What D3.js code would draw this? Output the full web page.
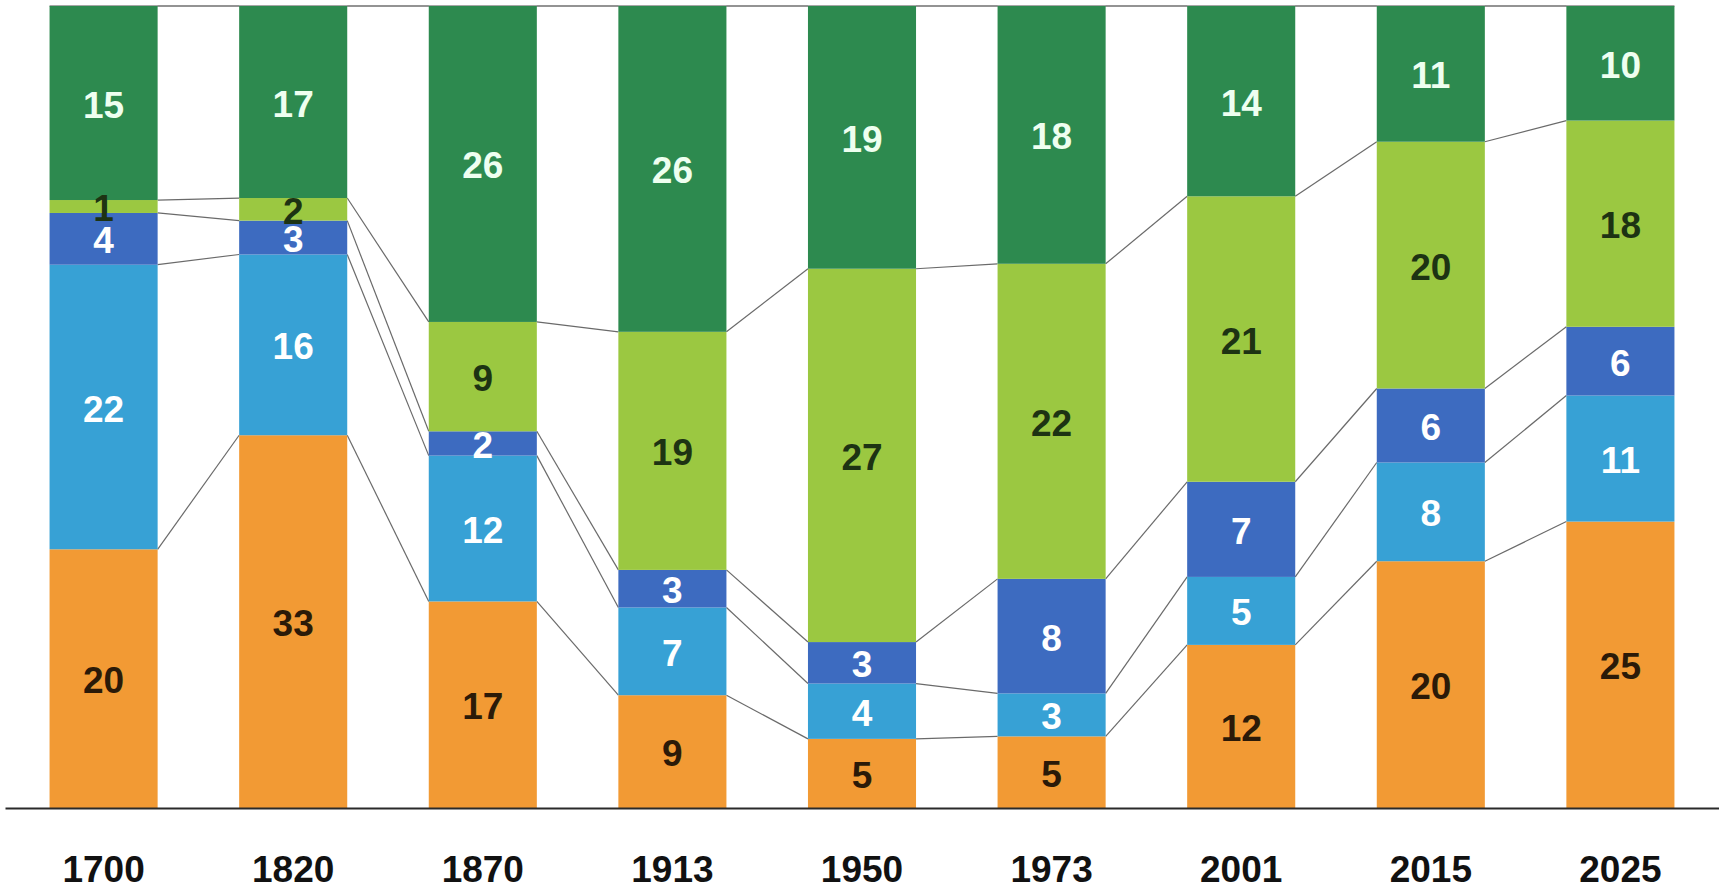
<!DOCTYPE html>
<html>
<head>
<meta charset="utf-8">
<script src="https://cdn.jsdelivr.net/npm/d3@7"></script>
<style>
html,body{margin:0;padding:0;background:#fff;}
svg{display:block;}
</style>
</head>
<body>
<svg id="chart" width="1719" height="893"></svg>
<script>
const years = ["1700","1820","1870","1913","1950","1973","2001","2015","2025"];
const seriesKeys = ["orange","lightBlue","darkBlue","lightGreen","darkGreen"];
const orange     = [20, 33, 17,  9,  5,  5, 12, 20, 25];
const lightBlue  = [22, 16, 12,  7,  4,  3,  5,  8, 11];
const darkBlue   = [ 4,  3,  2,  3,  3,  8,  7,  6,  6];
const lightGreen = [ 1,  2,  9, 19, 27, 22, 21, 20, 18];
const darkGreen  = [15, 17, 26, 26, 19, 18, 14, 11, 10];
const seriesColors = {orange:"#f29a34", lightBlue:"#37a1d5", darkBlue:"#3d6bc0", lightGreen:"#9bc841", darkGreen:"#2d8a4f"};
const labelColors  = {orange:"#2b1a08", lightBlue:"#ffffff", darkBlue:"#ffffff", lightGreen:"#1d3313", darkGreen:"#eefff0"};

const valuesByKey = {orange, lightBlue, darkBlue, lightGreen, darkGreen};
const rows = years.map((y,i) => {
  const r = {year:y};
  seriesKeys.forEach(k => r[k] = valuesByKey[k][i]);
  return r;
});

const svg = d3.select("#chart");
const x = d3.scaleBand().domain(years).range([5, 1719]).paddingInner(0.43).paddingOuter(0.235);
const y = d3.scaleLinear().domain([0,1]).range([808, 6]);

const stack = d3.stack().keys(seriesKeys).offset(d3.stackOffsetExpand);
const layers = stack(rows);

// connector lines
const connG = svg.append("g");
const boundaries = layers.map(l => l.map(d => d[1]));
boundaries.forEach((b, li) => {
  for (let i = 0; i < years.length - 1; i++) {
    connG.append("line")
      .attr("x1", x(years[i]) + x.bandwidth())
      .attr("y1", y(b[i]))
      .attr("x2", x(years[i+1]))
      .attr("y2", y(b[i+1]))
      .attr("stroke", "#6a6a6a")
      .attr("stroke-width", 1.2);
  }
});
// top line across
connG.append("line")
  .attr("x1", x(years[0]))
  .attr("x2", x(years[years.length-1]) + x.bandwidth())
  .attr("y1", y(1)).attr("y2", y(1))
  .attr("stroke", "#888").attr("stroke-width", 1.5);

// bars
const g = svg.append("g");
layers.forEach(layer => {
  const key = layer.key;
  g.selectAll(null).data(layer).enter().append("rect")
    .attr("x", d => x(d.data.year))
    .attr("y", d => y(d[1]))
    .attr("width", x.bandwidth())
    .attr("height", d => y(d[0]) - y(d[1]))
    .attr("fill", seriesColors[key]);
});
// labels
layers.forEach(layer => {
  const key = layer.key;
  g.selectAll(null).data(layer).enter().append("text")
    .attr("x", d => x(d.data.year) + x.bandwidth()/2)
    .attr("y", d => (y(d[0]) + y(d[1]))/2 + 2)
    .attr("text-anchor", "middle")
    .attr("dominant-baseline", "central")
    .attr("font-family", "'Liberation Sans', Arial, sans-serif")
    .attr("font-weight", "bold")
    .attr("font-size", 37)
    .attr("fill", labelColors[key])
    .text(d => d.data[key]);
});

// axis
const axis = svg.append("g")
  .attr("transform", "translate(0,808)")
  .call(d3.axisBottom(x).tickSize(0).tickSizeOuter(0).tickPadding(48));
axis.select(".domain").attr("stroke", "#2a2a2a").attr("stroke-width", 2);
axis.selectAll("text")
  .attr("font-family", "'Liberation Sans', Arial, sans-serif")
  .attr("font-weight", "bold")
  .attr("font-size", 37)
  .attr("fill", "#111");
</script>
</body>
</html>
